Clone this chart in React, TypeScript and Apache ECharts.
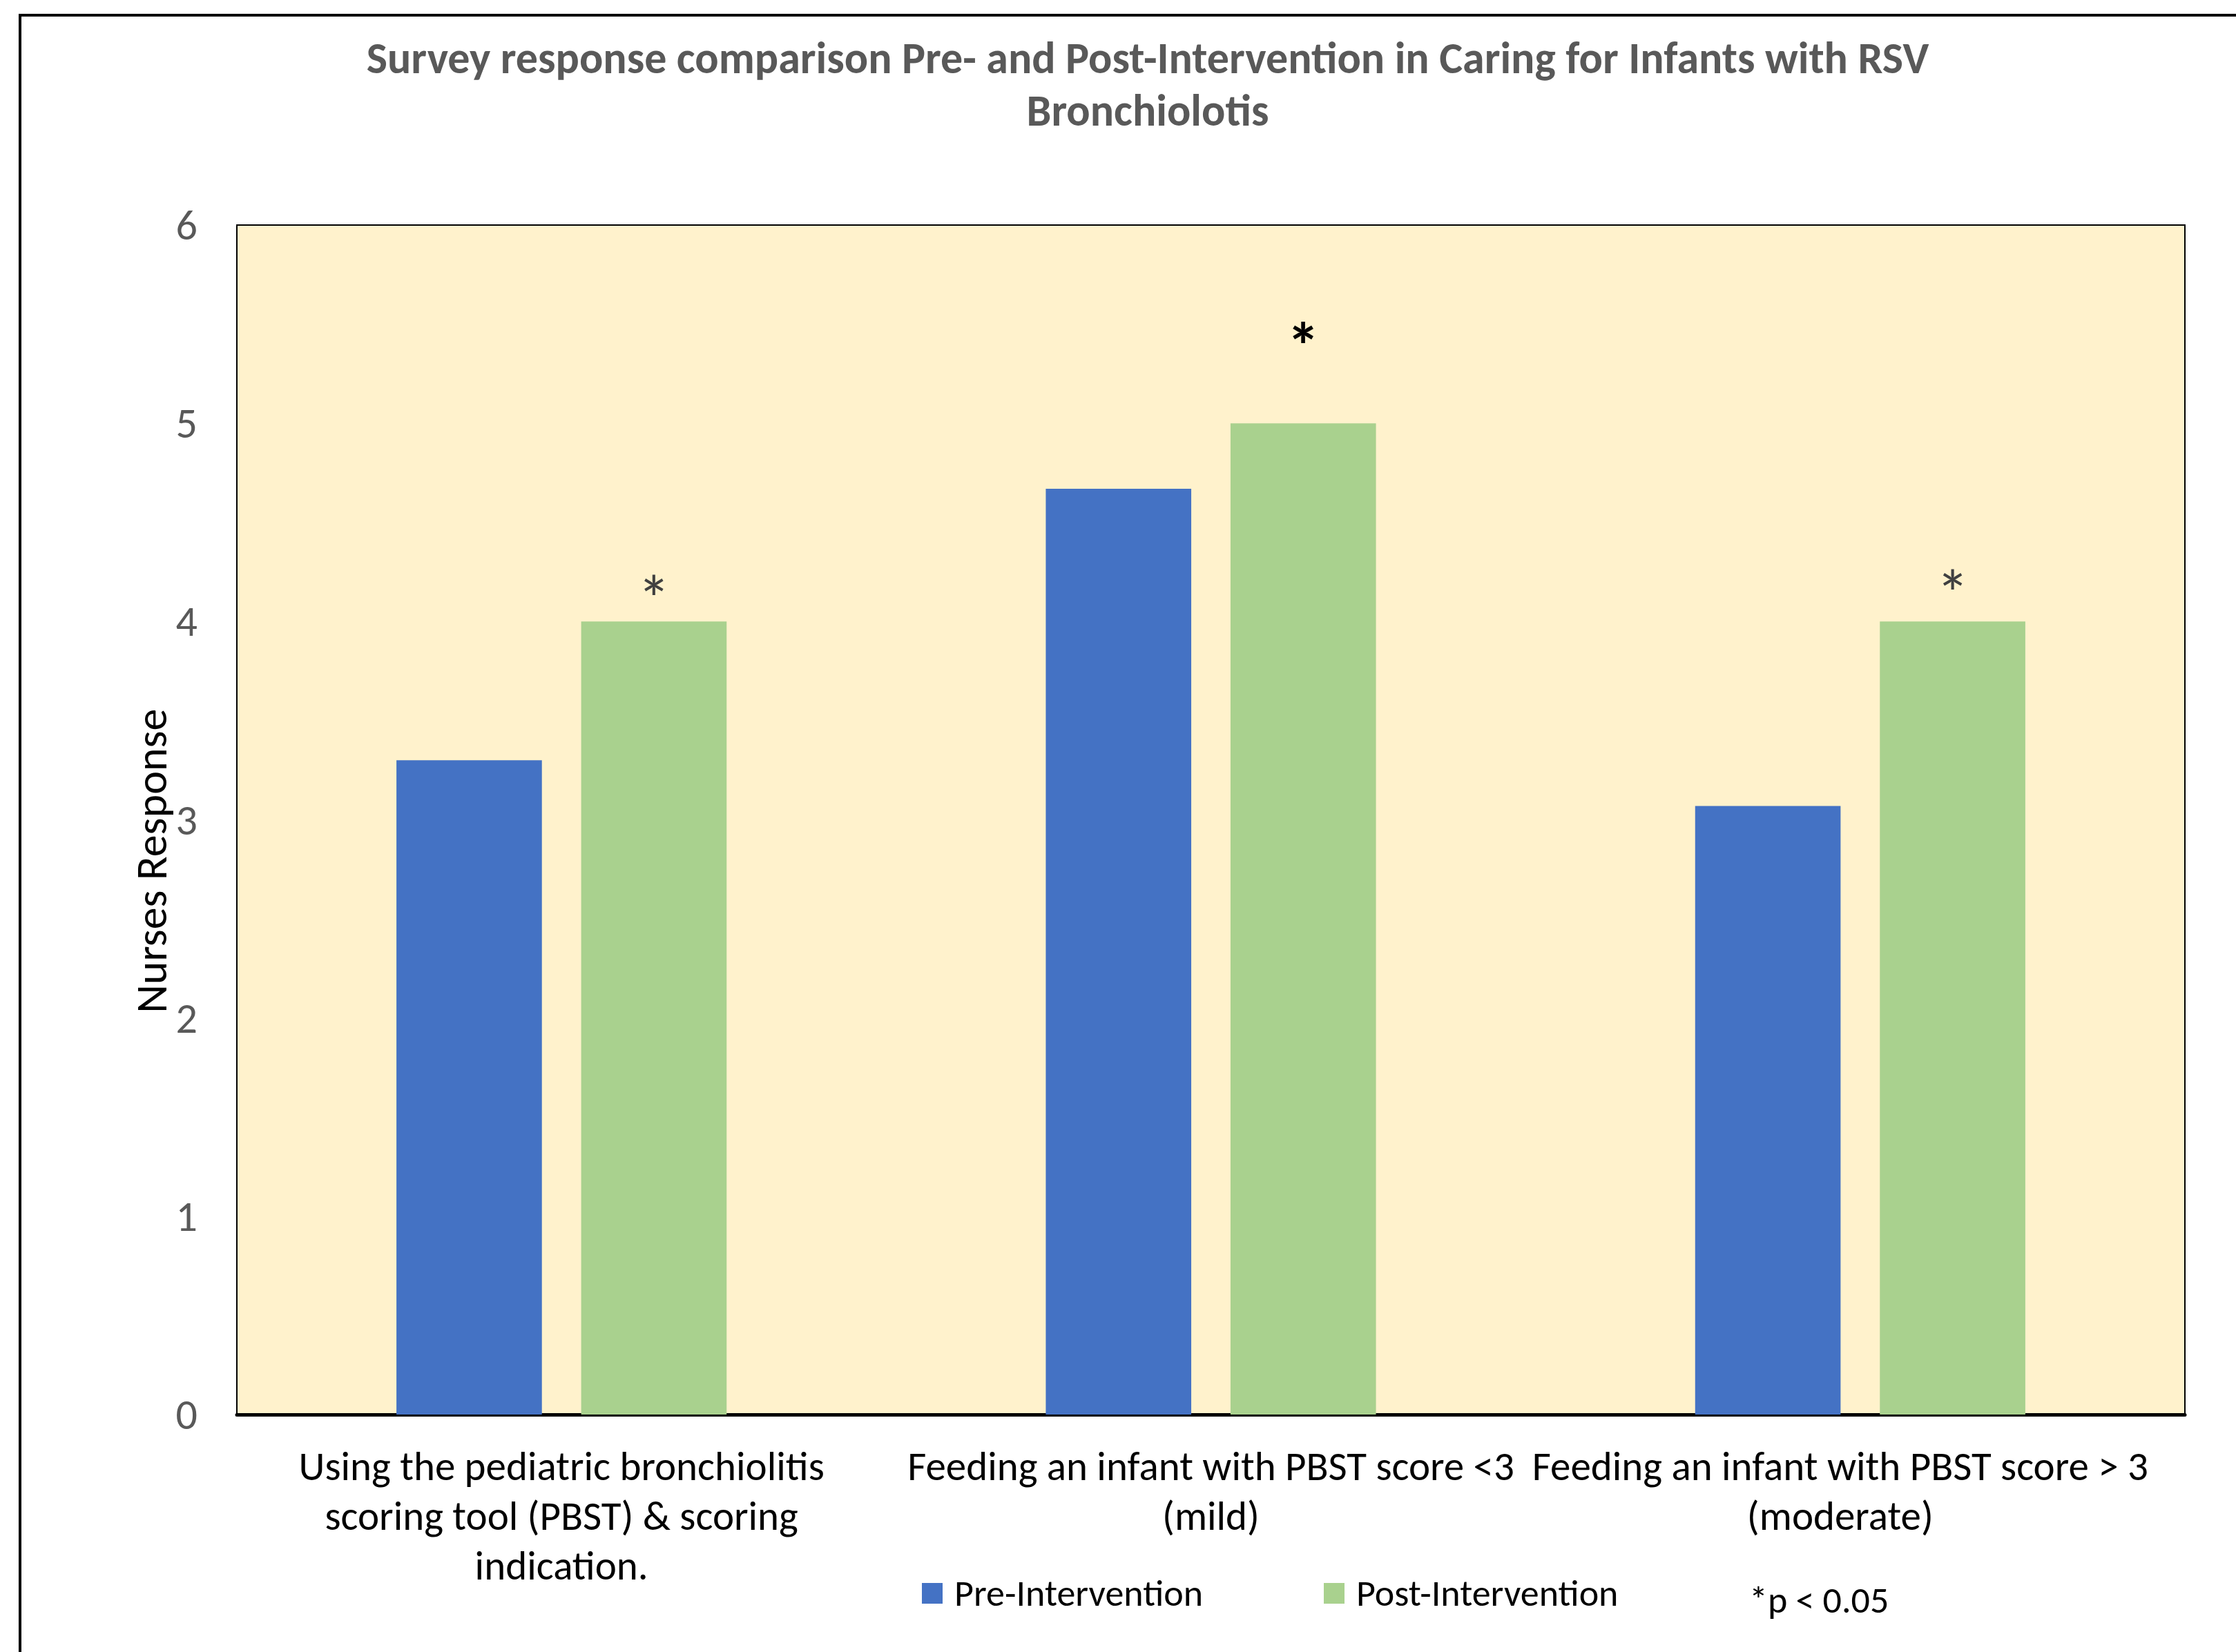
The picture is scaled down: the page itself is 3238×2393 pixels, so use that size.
import React, { useEffect, useRef } from "react";
import * as echarts from "echarts";

const categories = [
  "Using the pediatric bronchiolitis\nscoring tool (PBST) & scoring\nindication.",
  "Feeding an infant with PBST score <3\n(mild)",
  "Feeding an infant with PBST score > 3\n(moderate)",
];
const preValues = [3.3, 4.67, 3.07];
const postValues = [4, 5, 4];
const significance = ["*", "*", "*"];
const seriesNames = ["Pre-Intervention", "Post-Intervention"];
const yMin = 0;
const yMax = 6;
const yInterval = 1;
const titleText =
  "Survey response comparison Pre- and Post-Intervention in Caring for Infants with RSV\nBronchiolotis";
const yAxisTitle = "Nurses Response";
const noteText = "*p < 0.05";

const FONT = "'Carlito', 'Open Sans', sans-serif";

// label styling per star (positions only, not data)
const starStyles = [
  { lift: -16, color: "#404040", fontWeight: "normal" },
  { lift: 64, color: "#000000", fontWeight: "bold" },
  { lift: -8, color: "#404040", fontWeight: "normal" },
];
// horizontal nudge of category labels (right padding, px)
const labelShift = [0, 0, 58];

export default function App() {
  const ref = useRef<HTMLDivElement>(null);
  useEffect(() => {
    if (!ref.current) return;
    const chart = echarts.init(ref.current, undefined, { renderer: "svg" });
    const legendText = { fontFamily: FONT, fontSize: 54, color: "#000", padding: [0, 0, 0, 12] };
    const labelBase = { fontFamily: FONT, fontSize: 59, lineHeight: 72, color: "#000" };
    const rich: any = {};
    labelShift.forEach((s, i) => {
      rich["c" + i] = { ...labelBase, padding: [0, s, 0, 0] };
    });
    const option: any = {
      animation: false,
      backgroundColor: "#ffffff",
      title: {
        text: titleText,
        left: 1662,
        textAlign: "center",
        top: 46,
        padding: 0,
        textStyle: {
          fontFamily: FONT,
          fontSize: 64,
          fontWeight: "bold",
          color: "#595959",
          lineHeight: 76,
        },
      },
      legend: [
        {
          data: [seriesNames[0]],
          left: 1335,
          top: 2281,
          padding: 0,
          itemWidth: 30,
          itemHeight: 30,
          icon: "rect",
          textStyle: legendText,
        },
        {
          data: [seriesNames[1]],
          left: 1917,
          top: 2281,
          padding: 0,
          itemWidth: 30,
          itemHeight: 30,
          icon: "rect",
          textStyle: legendText,
        },
      ],
      grid: {
        left: 343,
        right: 74,
        top: 326,
        bottom: 344,
        show: true,
        backgroundColor: "#FFF2CC",
        borderColor: "#000",
        borderWidth: 2,
        containLabel: false,
      },
      xAxis: {
        type: "category",
        data: categories,
        axisLine: { show: true, lineStyle: { color: "#000", width: 5 } },
        axisTick: { show: false },
        splitLine: { show: false },
        axisLabel: {
          interval: 0,
          margin: 39,
          ...labelBase,
          align: "center",
          formatter: (value: string, idx: number) =>
            value
              .split("\n")
              .map((line) => `{c${idx}|${line}}`)
              .join("\n"),
          rich,
        },
      },
      yAxis: {
        type: "value",
        min: yMin,
        max: yMax,
        interval: yInterval,
        axisLine: { show: false },
        axisTick: { show: false },
        splitLine: { show: false },
        axisLabel: {
          margin: 57,
          fontFamily: FONT,
          fontSize: 62,
          color: "#595959",
        },
      },
      series: [
        {
          name: seriesNames[0],
          type: "bar",
          data: preValues,
          barWidth: "22.4%",
          barGap: "27%",
          itemStyle: { color: "#4472C4" },
        },
        {
          name: seriesNames[1],
          type: "bar",
          data: postValues.map((v, i) => ({
            value: v,
            label: {
              show: true,
              position: "top",
              formatter: significance[i],
              distance: 0,
              offset: [0, -starStyles[i].lift],
              color: starStyles[i].color,
              fontWeight: starStyles[i].fontWeight,
              fontSize: 96,
              fontFamily: FONT,
            },
          })),
          barWidth: "22.4%",
          barGap: "27%",
          itemStyle: { color: "#A9D18E" },
        },
      ],
      graphic: [
        {
          type: "rect",
          silent: true,
          shape: { x: 29, y: 22, width: 3600, height: 2800 },
          style: { fill: "none", stroke: "#000", lineWidth: 4 },
        },
        {
          type: "text",
          x: 219,
          y: 1247,
          rotation: Math.PI / 2,
          silent: true,
          style: {
            text: yAxisTitle,
            fontFamily: FONT,
            fontSize: 64,
            fill: "#000",
            textAlign: "center",
            textVerticalAlign: "middle",
          },
        },
        {
          type: "text",
          x: 2533,
          y: 2318,
          silent: true,
          style: {
            text: noteText,
            fontFamily: FONT,
            fontSize: 54,
            fill: "#000",
            textAlign: "left",
            textVerticalAlign: "middle",
          },
        },
      ],
    };
    chart.setOption(option);
    return () => chart.dispose();
  }, []);
  return (
    <div
      ref={ref}
      style={{ position: "fixed", left: 0, top: 0, width: "3238px", height: "2393px" }}
    />
  );
}
